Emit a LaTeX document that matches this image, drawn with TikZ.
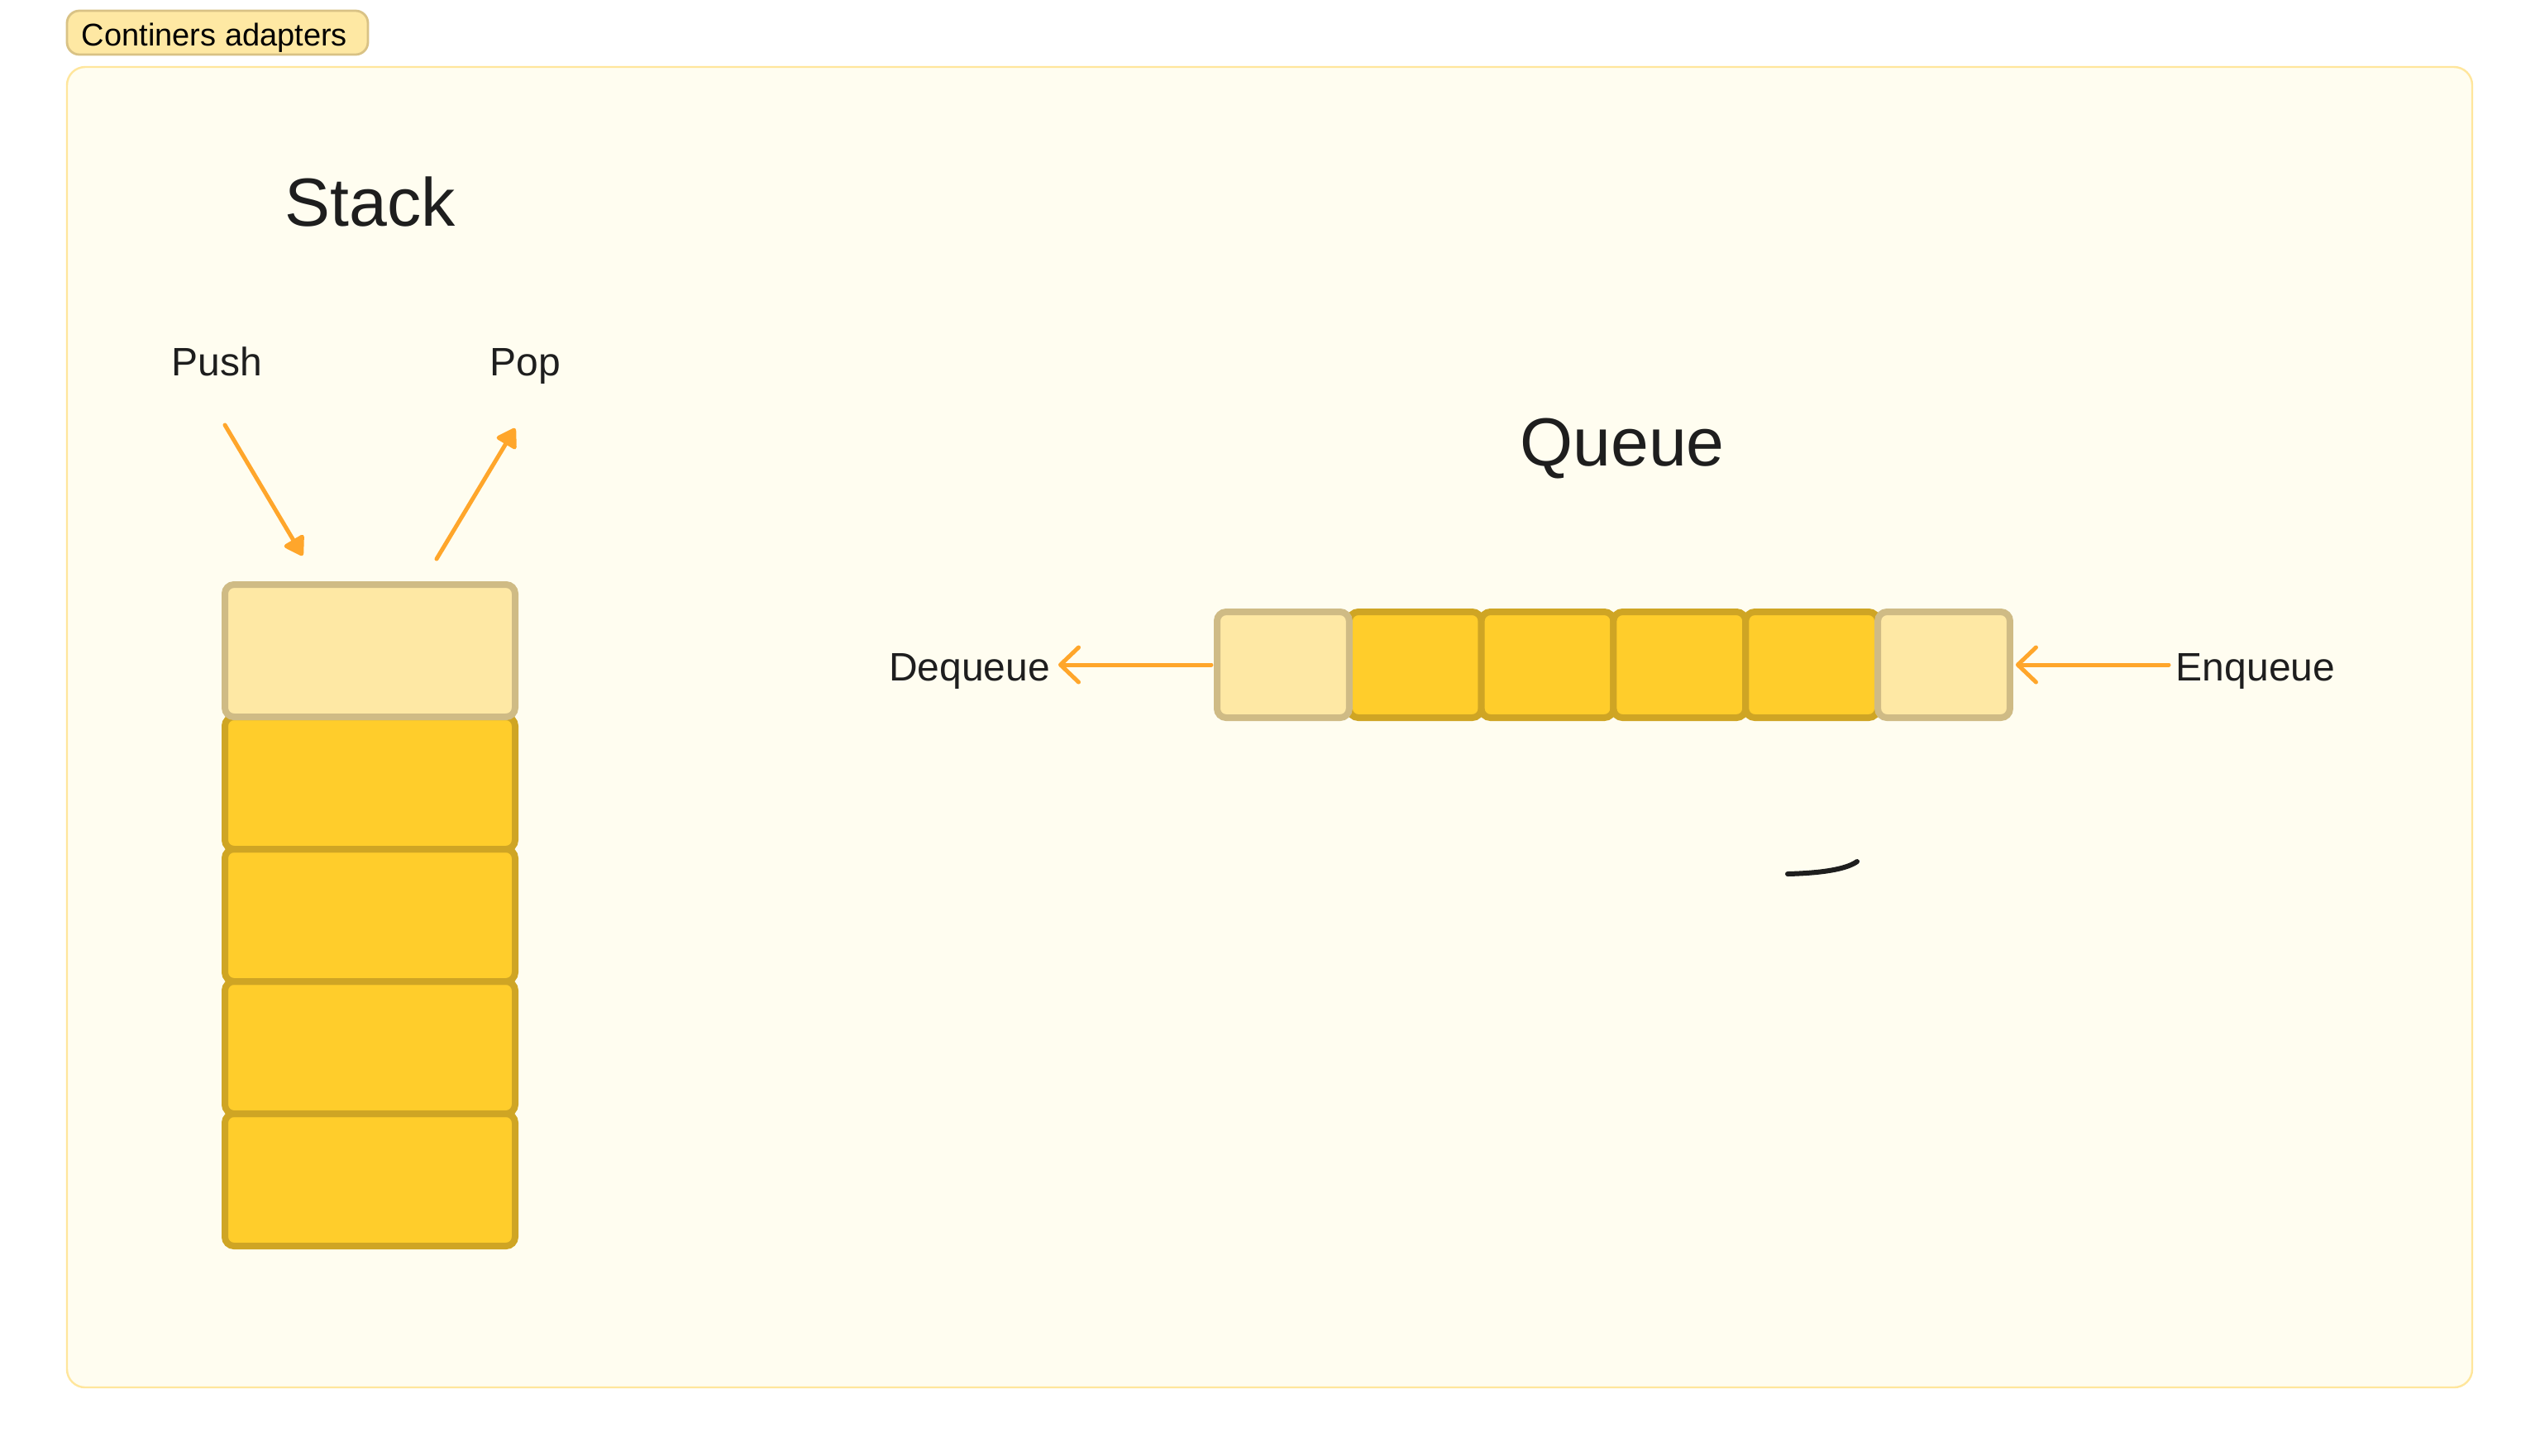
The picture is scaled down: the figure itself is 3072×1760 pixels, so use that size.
\documentclass[tikz,border=0pt]{standalone}
\usepackage{fontspec}
\setmainfont{Liberation Sans}
\usetikzlibrary{arrows.meta}
\definecolor{ink}{HTML}{1E1E1E}
\definecolor{framefill}{HTML}{FFFDF0}
\definecolor{frameline}{HTML}{FFE69C}
\definecolor{lightfill}{HTML}{FEE8A4}
\definecolor{lightline}{HTML}{CFBB85}
\definecolor{yelfill}{HTML}{FFCD2B}
\definecolor{yelline}{HTML}{CFA524}
\definecolor{arrowc}{HTML}{FFA62B}
\definecolor{pillline}{HTML}{D9C285}
\definecolor{pillfill}{HTML}{FEE8A3}
\begin{document}
\begin{tikzpicture}[x=0.25pt,y=-0.25pt,
  yelbox/.style={draw=yelline, fill=yelfill, line width=2pt, rounded corners=2.75pt, inner sep=0pt, outer sep=0pt},
  lightbox/.style={draw=lightline, fill=lightfill, line width=2pt, rounded corners=2.75pt, inner sep=0pt, outer sep=0pt},
  sbox/.style={minimum width=87.75pt, minimum height=40pt},
  qbox/.style={minimum width=39.96pt, minimum height=32pt},
  lbl/.style={text=ink, inner sep=0pt, anchor=base, font=\fontsize{12}{14}\selectfont},
  bigtitle/.style={text=ink, inner sep=0pt, anchor=base, font=\fontsize{20.6}{24}\selectfont},
  pilltext/.style={text=black, inner sep=0pt, anchor=base, font=\fontsize{9.5}{11}\selectfont},
  pusharrow/.style={draw=arrowc, line width=1.25pt, line cap=round, -{Triangle[length=6.2pt,width=7.5pt,round]}},
  qarrow/.style={draw=arrowc, line width=1.25pt, line cap=round, -{Straight Barb[length=5.5pt,width=10.5pt,round]}},
]
% page
\fill[white] (0,0) rectangle (3072,1760);
\useasboundingbox (0,0) rectangle (3072,1760);
% frame
\draw[frameline, fill=framefill, line width=0.6pt, rounded corners=5.5pt] (81,81) rectangle (2990,1678);
% pill
\draw[pillline, fill=pillfill, line width=0.7pt, rounded corners=3.75pt] (81,13) rectangle (445,66);
\node[pilltext] (pill) at (259.5,55) {Continers adapters};
% titles
\node[bigtitle] (stacktitle) at (448,273) {Stack};
\node[bigtitle] (queuetitle) at (1962,563) {Queue};
% labels
\node[lbl] (push) at (262.5,454) {Push};
\node[lbl] (pop) at (635.5,454) {Pop};
\node[lbl] (deq) at (1172.5,823) {Dequeue};
\node[lbl] (enq) at (2728,823) {Enqueue};
% stack boxes
\node[yelbox, sbox] (s5) at (447.5,1427) {};
\node[yelbox, sbox] (s4) at (447.5,1267) {};
\node[yelbox, sbox] (s3) at (447.5,1107) {};
\node[yelbox, sbox] (s2) at (447.5,947) {};
\node[lightbox, sbox] (s1) at (447.5,787) {};
% queue boxes
\node[yelbox, qbox] (q2) at (1711.7,804) {};
\node[yelbox, qbox] (q3) at (1871.5,804) {};
\node[yelbox, qbox] (q4) at (2031.3,804) {};
\node[yelbox, qbox] (q5) at (2191.2,804) {};
\node[lightbox, qbox] (q1) at (1551.9,804) {};
\node[lightbox, qbox] (q6) at (2351.0,804) {};
% arrows
\coordinate (pushA) at (272,514);
\coordinate (pushB) at (366,672);
\coordinate (popA) at (528,676);
\coordinate (popB) at (623,518);
\coordinate (deqtip) at (1280,804);
\coordinate (enqstart) at (2623,804);
\draw[pusharrow] (pushA) -- (pushB);
\draw[pusharrow] (popA) -- (popB);
\draw[qarrow] ([xshift=-1.75pt]q1.west) -- (deqtip);
\draw[qarrow] (enqstart) -- ([xshift=1.75pt]q6.east);
% squiggle
\coordinate (sqA) at (2162,1057);
\coordinate (sqB) at (2246,1042);
\draw[ink, line width=1.5pt, line cap=round] (sqA) .. controls (2200,1056) and (2232,1052) .. (sqB);
\end{tikzpicture}
\end{document}
